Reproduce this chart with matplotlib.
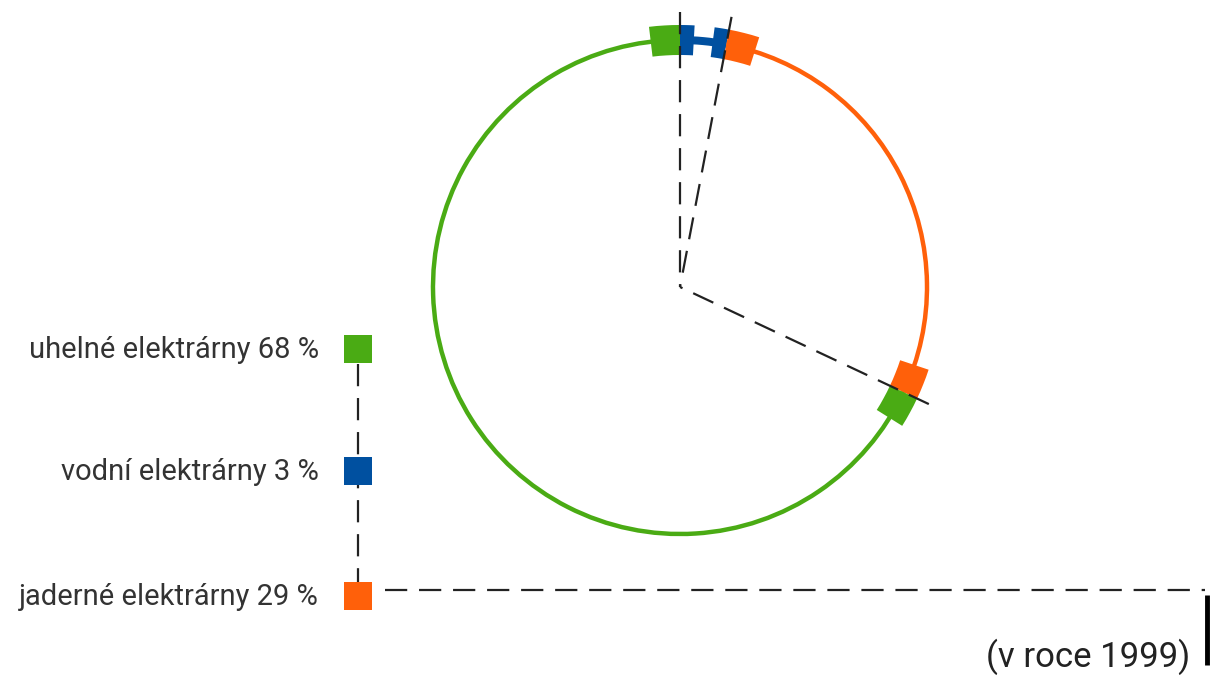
import numpy as np
import matplotlib
matplotlib.use("Agg")
import matplotlib.pyplot as plt
from matplotlib.patches import Arc, Wedge, Rectangle

plt.rcParams['font.family'] = ['Roboto', 'DejaVu Sans']
plt.rcParams['lines.scale_dashes'] = False

# data, in clockwise order starting at 12 o'clock
labels = ['vodní elektrárny 3 %', 'jaderné elektrárny 29 %', 'uhelné elektrárny 68 %']
shares = [3, 29, 68]
colors = ['#0050a0', '#ff600a', '#4aab14']
legend_order = [2, 0, 1]  # coal, hydro, nuclear from top to bottom
note = '(v roce 1999)'

fig = plt.figure(figsize=(12.12, 6.79), dpi=100)
ax = fig.add_axes([0, 0, 1, 1])
ax.set_xlim(0, 1212)
ax.set_ylim(0, 679)
ax.set_aspect('equal')
ax.axis('off')

cx, cy, r = 680, 392, 247
dash = (16, 8.5)

# boundaries between segments (degrees, counterclockwise from east)
bounds = 90 - 360 * np.cumsum([0] + shares) / sum(shares)

# ring segments
for i, c in enumerate(colors):
    t_end, t_start = bounds[i], bounds[i + 1]
    if shares[i] < 5:
        ax.add_patch(Wedge((cx, cy), r + 4, t_start, t_end, width=8, color=c, lw=0))
    else:
        ax.add_patch(Arc((cx, cy), 2 * r, 2 * r, theta1=t_start, theta2=t_end,
                         color=c, lw=3.2))

# caps at both ends of every segment
for i, c in enumerate(colors):
    t_end, t_start = bounds[i], bounds[i + 1]
    span = 3.2 if shares[i] < 5 else 6.8
    ax.add_patch(Wedge((cx, cy), r + 15, t_end - span, t_end, width=30, color=c, lw=0))
    ax.add_patch(Wedge((cx, cy), r + 15, t_start, t_start + span, width=30, color=c, lw=0))

# dashed spokes from the centre
for t in bounds[:-1]:
    a = np.radians(t)
    ax.plot([cx + 275 * np.cos(a), cx], [cy + 275 * np.sin(a), cy],
            color='#222222', lw=1.6, dashes=dash, zorder=5)

# legend
lx, ly = 358, [330, 208, 83]
ax.plot([lx, lx], [ly[0] - 15, ly[2] + 14], color='#222222', lw=1.6,
        dashes=dash, zorder=1)
ax.plot([lx + 27, 1205], [89, 89], color='#222222', lw=1.6, dashes=dash)
for k, idx in enumerate(legend_order):
    ax.add_patch(Rectangle((lx - 14, ly[k] - 14), 28, 28, color=colors[idx], lw=0, zorder=3))
    ax.text(319, ly[k] - 1, labels[idx], ha='right', va='center',
            fontsize=21, color='#333333')

ax.plot([1207, 1207], [84, 14], color='black', lw=3.5, solid_capstyle='butt')
ax.text(1190, 12, note, ha='right', va='baseline', fontsize=25, color='#222222')

fig.savefig('out.png', dpi=100)
